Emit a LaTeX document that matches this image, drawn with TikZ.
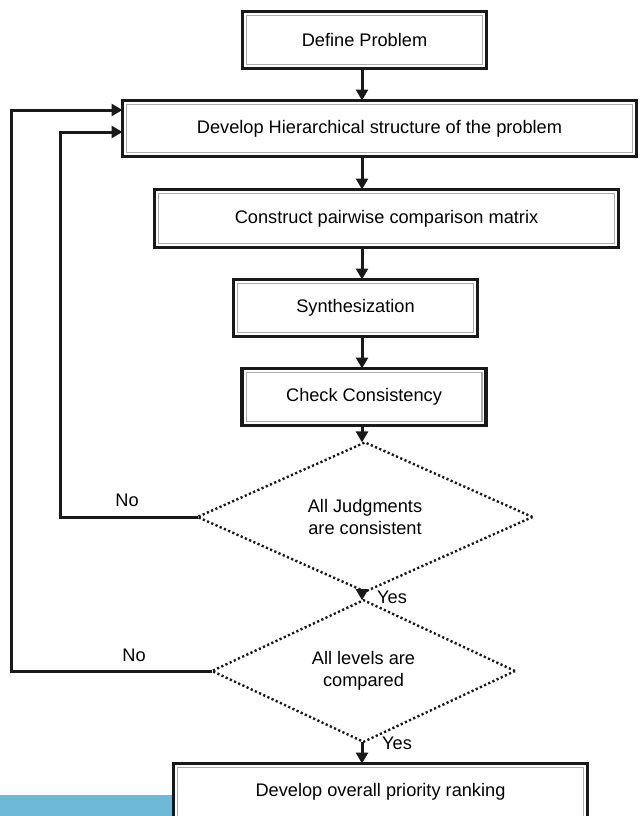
\documentclass[tikz,border=0pt]{standalone}
\usepackage{fontspec}
\setmainfont{Liberation Sans}
\usetikzlibrary{arrows.meta,shapes.geometric}
\definecolor{barblue}{RGB}{111,185,216}
\tikzset{
  txt/.style={font=\fontsize{18.2}{21.5}\selectfont},
  procbox/.style={draw=black!90, line width=3.2pt, fill=white, inner sep=0pt, outer sep=0pt, txt, align=center},
  innerline/.style={draw=gray!65, line width=1.4pt},
  decision/.style={shape=diamond, draw=black!90, line width=2.4pt, dash pattern=on 2.2pt off 2.4pt, inner sep=0pt, outer sep=0pt, txt, align=center},
  arr/.style={draw=black!90, line width=3pt, -{Triangle[length=11pt,width=12pt]}},
  lbl/.style={txt, inner sep=0pt}
}
\begin{document}
\begin{tikzpicture}[x=1pt,y=-1pt]
\useasboundingbox (0,0) rectangle (641,816);
\fill[barblue] (0,795) rectangle (174,816);

\node[procbox, minimum width=244pt, minimum height=57pt] (b1) at (364.5,40) {Define Problem};
\node[procbox, minimum width=514pt, minimum height=56pt] (b2) at (379.5,128.5) {Develop Hierarchical structure of the problem};
\node[procbox, minimum width=464pt, minimum height=58pt] (b3) at (386.5,218.5) {Construct pairwise comparison matrix};
\node[procbox, minimum width=244pt, minimum height=57pt] (b4) at (355.5,308) {Synthesization};
\node[procbox, minimum width=244pt, minimum height=57pt] (b5) at (364,397) {Check Consistency};
\node[decision, minimum width=335pt, minimum height=120pt] (d1) at (365,517) {All Judgments\\are consistent};
\node[decision, minimum width=303pt, minimum height=118pt] (d2) at (363.5,671) {All levels are\\compared};
\node[procbox, minimum width=414pt, minimum height=57pt] (b6) at (380.5,792) {Develop overall priority ranking};

\foreach \n in {b1,b2,b3,b4,b5,b6}{
  \draw[innerline] ([shift={(4.2pt,-4.2pt)}]\n.north west) rectangle ([shift={(-4.2pt,4.2pt)}]\n.south east);
}

\coordinate (ax) at (362,0);
\coordinate (l1) at (60,0);
\coordinate (l2) at (11,0);

\draw[arr] (b1.south -| ax) -- (b2.north -| ax);
\draw[arr] (b2.south -| ax) -- (b3.north -| ax);
\draw[arr] (b3.south -| ax) -- (b4.north -| ax);
\draw[arr] (b4.south -| ax) -- (b5.north -| ax);
\draw[arr] (b5.south -| ax) -- (d1.north -| ax);
\draw[arr] (d1.south -| ax) -- (d2.north -| ax);
\draw[arr] (d2.south -| ax) -- (b6.north -| ax);

\draw[arr] (d1.west) -- (d1.west -| l1) |- ([yshift=-3.5pt]b2.west);
\draw[arr] (d2.west) -- (d2.west -| l2) |- ([yshift=18.5pt]b2.west);

\node[lbl] (no1) at (127,500) {No};
\node[lbl] (no2) at (134,655) {No};
\node[lbl] (yes1) at (392,597) {Yes};
\node[lbl] (yes2) at (397,743) {Yes};
\end{tikzpicture}
\end{document}
